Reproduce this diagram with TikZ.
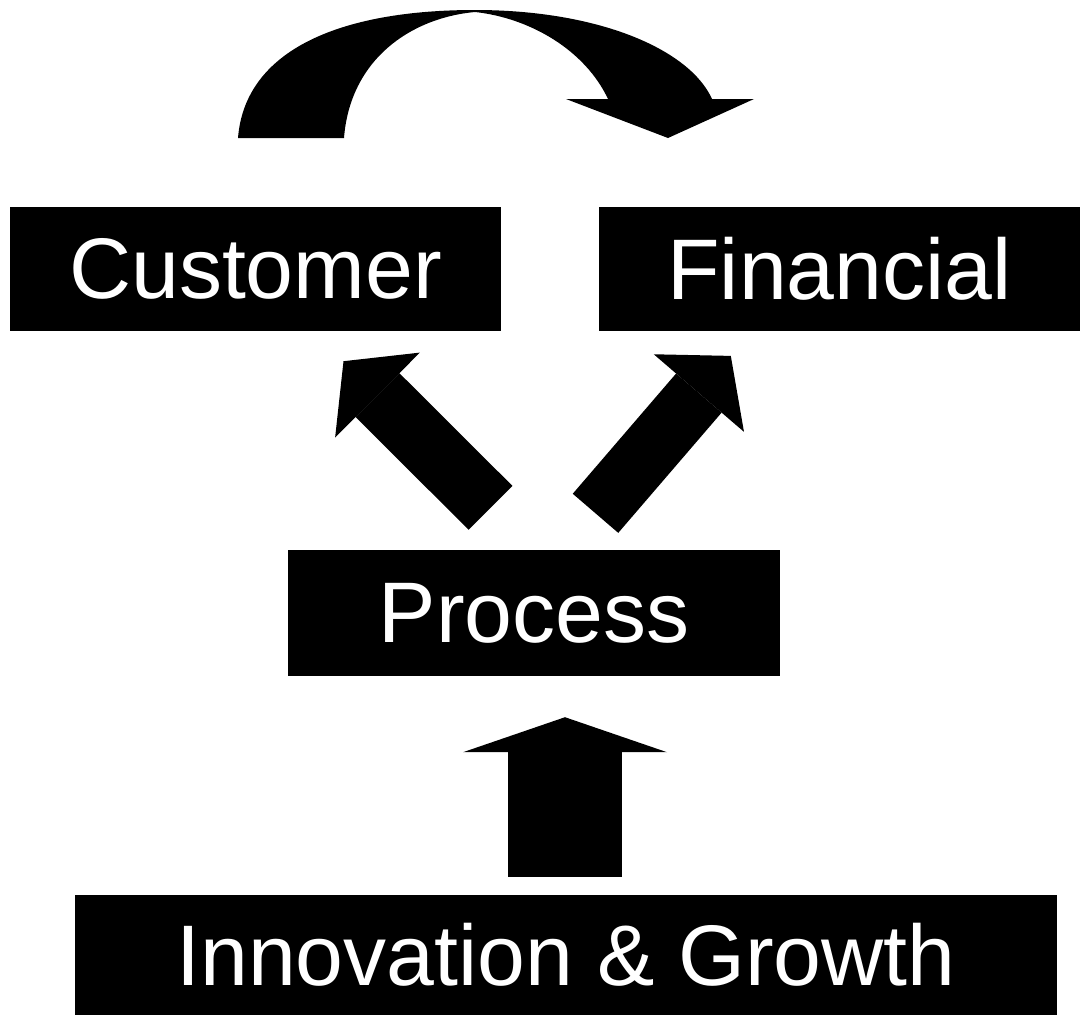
\documentclass[tikz,border=0pt]{standalone}
\usepackage{fontspec}
\setmainfont{Liberation Sans}
\usetikzlibrary{arrows.meta}

\begin{document}
\begin{tikzpicture}[
  x=1pt,y=-1pt,
  card/.style={fill=black,text=white,inner sep=0pt,font=\fontsize{86}{100}\selectfont},
  fat/.style n args={3}{line width=#1pt,-{Triangle[width=#2pt,length=#3pt,line width=0pt]}}
]
  \useasboundingbox[fill=white] (0,0) rectangle (1080,1015);

  \node[card,minimum width=491pt,minimum height=124pt] (customer) at (255.5,269) {Customer};
  \node[card,minimum width=481pt,minimum height=124pt] (financial) at (839.5,269) {Financial};
  \node[card,minimum width=492pt,minimum height=126pt] (process) at (534,613) {Process};
  \node[card,minimum width=982pt,minimum height=120pt] (growth) at (566,955) {Innovation \& Growth};

  \draw[fat={114}{204}{35}] ([shift={(-1,-18)}]growth.north) -- ([shift={(31,41)}]process.south);
  \draw[fat={62}{120}{48}] ([shift={(-43.5,-42)}]process.north) -- ([shift={(88,30)}]customer.south);
  \draw[fat={60}{119}{49}] ([shift={(61.5,-36.5)}]process.north) -- ([shift={(-108.7,24.7)}]financial.south);

  \fill (238,138) .. controls (245,50) and (340,10) .. (475,10)
    .. controls (600,10) and (690,50) .. (712,99)
    -- (754,99) -- (668,138) -- (566,99) -- (608,99)
    .. controls (585,50) and (530,18) .. (475,12)
    .. controls (410,18) and (350,60) .. (344,138) -- cycle;
\end{tikzpicture}
\end{document}
